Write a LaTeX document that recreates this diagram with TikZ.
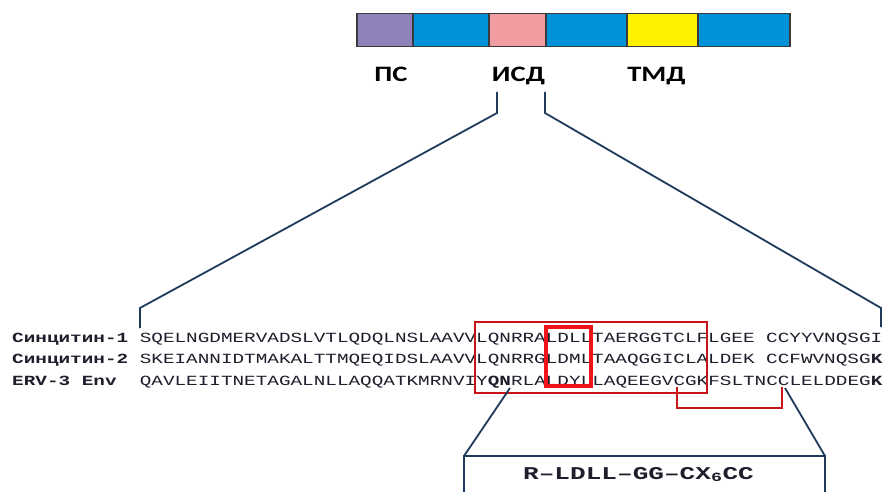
\documentclass[tikz,border=0pt]{standalone}
\usepackage{fontspec}
\newfontfamily\seqfont[FakeStretch=1.381]{Liberation Mono}
\newfontfamily\boxfont[FakeStretch=1.45]{Liberation Mono}
\newfontfamily\lblfont[FakeStretch=1.3]{Carlito}
\definecolor{navy}{HTML}{1F3B5C}
\definecolor{segpurple}{HTML}{8E82B8}
\definecolor{segblue}{HTML}{0092D8}
\definecolor{segpink}{HTML}{F09CA0}
\definecolor{segyellow}{HTML}{FFF200}
\definecolor{segborder}{HTML}{3A3A3A}
\definecolor{boxred}{HTML}{C81418}
\definecolor{brightred}{HTML}{F0141A}
\definecolor{seqcol}{HTML}{1E1E2C}
\tikzset{
  seg/.style={draw=segborder, line width=1.5pt, minimum height=33pt, inner sep=0pt, anchor=north west},
  domlbl/.style={font=\lblfont\bfseries\fontsize{22}{22}\selectfont, text=black, anchor=base, inner sep=0pt},
  seqrow/.style={font=\seqfont\fontsize{14}{14}\selectfont, text=seqcol, anchor=base west, inner sep=0pt},
  zoomline/.style={draw=navy, line width=1.8pt},
  redbox/.style={draw=boxred, line width=1.8pt},
  thickred/.style={draw=brightred, line width=3.6pt},
}
\begin{document}
\begin{tikzpicture}[x=1pt,y=-1pt]
\useasboundingbox[fill=white] (0,0) rectangle (887,492);
% domain bar
\node[seg, fill=segpurple, minimum width=56pt] (ps) at (356,13) {};
\node[seg, fill=segblue, minimum width=76pt] (b1) at (412,13) {};
\node[seg, fill=segpink, minimum width=57pt] (isd) at (488,13) {};
\node[seg, fill=segblue, minimum width=81pt] (b2) at (545,13) {};
\node[seg, fill=segyellow, minimum width=71pt] (tmd) at (626,13) {};
\node[seg, fill=segblue, minimum width=92pt] (b3) at (697,13) {};
% labels
\node[domlbl] (lps) at (391,82) {ПС};
\node[domlbl] (lisd) at (518.5,82) {ИСД};
\node[domlbl] (ltmd) at (656.5,82) {ТМД};
% sequences
\node[seqrow] (r1) at (12,342) {\textbf{Синцитин-1} SQELNGDMERVADSLVTLQDQLNSLAAVVLQNRRALDLLTAERGGTCLFLGEE CCYYVNQSGI};
\node[seqrow] (r2) at (12,363.5) {\textbf{Синцитин-2} SKEIANNIDTMAKALTTMQEQIDSLAAVVLQNRRGLDMLTAAQGGICLALDEK CCFWVNQSG\textbf{K}};
\node[seqrow] (r3) at (12,385) {\textbf{ERV-3 Env}~~QAVLEIITNETAGALNLLAQQATKMRNVIY\textbf{QN}RLALDYLLAQEEGVCGKFSLTNCCLELDDEG\textbf{K}};
% zoom lines from ISD
\coordinate (zl1) at (497,92);
\coordinate (zl2) at (497,113);
\coordinate (zl3) at (140,308);
\coordinate (zl4) at (140,328);
\coordinate (zr1) at (545,92);
\coordinate (zr2) at (545,113);
\coordinate (zr3) at (881,308);
\coordinate (zr4) at (881,327);
\draw[zoomline] (zl1) -- (zl2) -- (zl3) -- (zl4);
\draw[zoomline] (zr1) -- (zr2) -- (zr3) -- (zr4);
% red boxes
\draw[redbox] (475,322) rectangle (707,393);
\draw[thickred] (546,327) rectangle (591,386);
\coordinate (c1) at (677,387);
\coordinate (c2) at (782,387);
\draw[redbox] (c1) -- (677,408) -- (782,408) -- (c2);
% motif box
\node[font=\boxfont\bfseries\fontsize{18}{18}\selectfont, text=seqcol, inner sep=0pt, anchor=base] (motif) at (638.5,479) {R–LDLL–GG–CX\textsubscript{6}CC};
\coordinate (m1) at (510,388);
\coordinate (m2) at (785,388);
\coordinate (bl) at (464,456);
\coordinate (br) at (825,456);
\draw[zoomline] (m1) -- (bl);
\draw[zoomline] (m2) -- (br);
\draw[zoomline] (464,495) -- (bl) -- (br) -- (825,495);
\end{tikzpicture}
\end{document}
